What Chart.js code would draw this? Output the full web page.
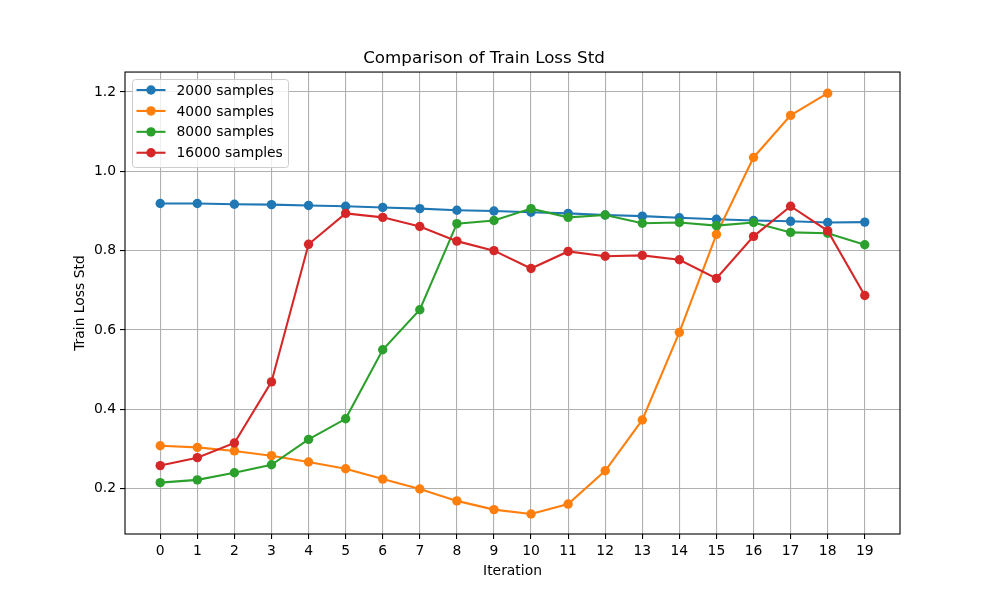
<!DOCTYPE html>
<html>
<head>
<meta charset="utf-8">
<script src="https://cdn.jsdelivr.net/npm/chart.js@4.4.1/dist/chart.umd.min.js"></script>
<style>
  html, body { margin: 0; padding: 0; background: #fff; }
  #wrap { width: 1000px; height: 600px; }
</style>
</head>
<body>
<div id="wrap"><canvas id="myChart" width="1000" height="600"></canvas></div>
<script>
const iterations = [0, 1, 2, 3, 4, 5, 6, 7, 8, 9, 10, 11, 12, 13, 14, 15, 16, 17, 18, 19];
const yTicks = [0.2, 0.4, 0.6, 0.8, 1.0, 1.2];

const samples2000 = [0.919, 0.919, 0.917, 0.916, 0.914, 0.912, 0.909, 0.906, 0.902, 0.900,
                     0.897, 0.894, 0.890, 0.887, 0.883, 0.879, 0.876, 0.874, 0.871, 0.872];
const samples4000 = [0.308, 0.304, 0.295, 0.283, 0.267, 0.250, 0.224, 0.199, 0.169, 0.147,
                     0.136, 0.161, 0.245, 0.373, 0.594, 0.841, 1.035, 1.141, 1.197];
const samples8000 = [0.215, 0.222, 0.240, 0.260, 0.324, 0.376, 0.550, 0.651, 0.868, 0.876,
                     0.906, 0.884, 0.890, 0.869, 0.871, 0.863, 0.871, 0.846, 0.844, 0.815];
const samples16000 = [0.258, 0.278, 0.315, 0.469, 0.816, 0.894, 0.884, 0.861, 0.824, 0.800,
                      0.755, 0.798, 0.786, 0.788, 0.777, 0.730, 0.836, 0.912, 0.850, 0.687];

const seriesLabels = ['2000 samples', '4000 samples', '8000 samples', '16000 samples'];
const seriesValues = [samples2000, samples4000, samples8000, samples16000];
const colors = ['#1f77b4', '#ff7f0e', '#2ca02c', '#d62728'];

const FONT = 'DejaVu Sans';

// axes frame (matplotlib spines)
const framePlugin = {
  id: 'frame',
  afterDraw(chart) {
    const { ctx, chartArea: a } = chart;
    ctx.save();
    ctx.strokeStyle = '#000';
    ctx.lineWidth = 1.1;
    ctx.strokeRect(a.left, a.top, a.right - a.left, a.bottom - a.top);
    ctx.restore();
  }
};

// legend inside the plot, upper left
const insideLegend = {
  id: 'insideLegend',
  afterDraw(chart) {
    const { ctx, chartArea: a } = chart;
    const x0 = a.left + 7, y0 = a.top + 7;
    const w = 156, h = 88, r = 3;
    ctx.save();
    ctx.beginPath();
    ctx.roundRect(x0 + 0.5, y0 + 0.5, w, h, r);
    ctx.fillStyle = 'rgba(255,255,255,0.8)';
    ctx.fill();
    ctx.strokeStyle = '#cccccc';
    ctx.lineWidth = 1;
    ctx.stroke();
    ctx.font = '13.9px "' + FONT + '"';
    ctx.textBaseline = 'middle';
    chart.data.datasets.forEach((ds, i) => {
      const cy = y0 + 11 + i * 20.9;
      ctx.strokeStyle = ds.borderColor;
      ctx.lineWidth = 2.1;
      ctx.beginPath();
      ctx.moveTo(x0 + 4.5, cy);
      ctx.lineTo(x0 + 33.5, cy);
      ctx.stroke();
      ctx.fillStyle = ds.borderColor;
      ctx.beginPath();
      ctx.arc(x0 + 19, cy, 4.7, 0, Math.PI * 2);
      ctx.fill();
      ctx.fillStyle = '#000';
      ctx.fillText(ds.label, x0 + 44.5, cy + 1);
    });
    ctx.restore();
  }
};

const datasets = seriesLabels.map((label, i) => ({
  label: label,
  data: seriesValues[i].map((v, j) => ({ x: iterations[j], y: v })),
  borderColor: colors[i],
  backgroundColor: colors[i],
  pointBackgroundColor: colors[i],
  pointBorderWidth: 0,
  pointRadius: 4.7,
  borderWidth: 2.1,
  tension: 0,
  order: seriesLabels.length - i
}));

new Chart(document.getElementById('myChart').getContext('2d'), {
  type: 'line',
  data: { datasets: datasets },
  options: {
    responsive: false,
    animation: false,
    events: [],
    layout: { padding: { left: 68, right: 100, top: 49, bottom: 16 } },
    plugins: {
      legend: { display: false },
      tooltip: { enabled: false },
      title: {
        display: true,
        text: 'Comparison of Train Loss Std',
        color: '#000',
        font: { family: FONT, size: 16.7, weight: 'normal' },
        padding: { top: 0, bottom: 3 }
      }
    },
    scales: {
      x: {
        type: 'linear',
        min: -0.95,
        max: 19.95,
        afterBuildTicks(scale) { scale.ticks = iterations.map(v => ({ value: v })); },
        afterFit(scale) { scale.height = 50; },
        ticks: {
          color: '#000',
          font: { family: FONT, size: 13.9 },
          padding: 4,
          maxRotation: 0,
          autoSkip: false,
          callback: v => String(v)
        },
        grid: { color: '#b0b0b0', lineWidth: 1.1, tickColor: '#000', tickLength: 5, tickWidth: 1.1 },
        border: { display: false },
        title: {
          display: true,
          text: 'Iteration',
          color: '#000',
          font: { family: FONT, size: 13.9 },
          padding: { top: 4, bottom: 4 }
        }
      },
      y: {
        type: 'linear',
        min: 0.0855,
        max: 1.2504,
        afterBuildTicks(scale) { scale.ticks = yTicks.map(v => ({ value: v })); },
        afterFit(scale) { scale.width = 57; },
        ticks: {
          color: '#000',
          font: { family: FONT, size: 13.9 },
          padding: 4,
          callback: v => v.toFixed(1)
        },
        grid: { color: '#b0b0b0', lineWidth: 1.1, tickColor: '#000', tickLength: 5, tickWidth: 1.1 },
        border: { display: false },
        title: {
          display: true,
          text: 'Train Loss Std',
          color: '#000',
          font: { family: FONT, size: 13.9 },
          padding: { top: 4, bottom: 4 }
        }
      }
    }
  },
  plugins: [framePlugin, insideLegend]
});
</script>
</body>
</html>
